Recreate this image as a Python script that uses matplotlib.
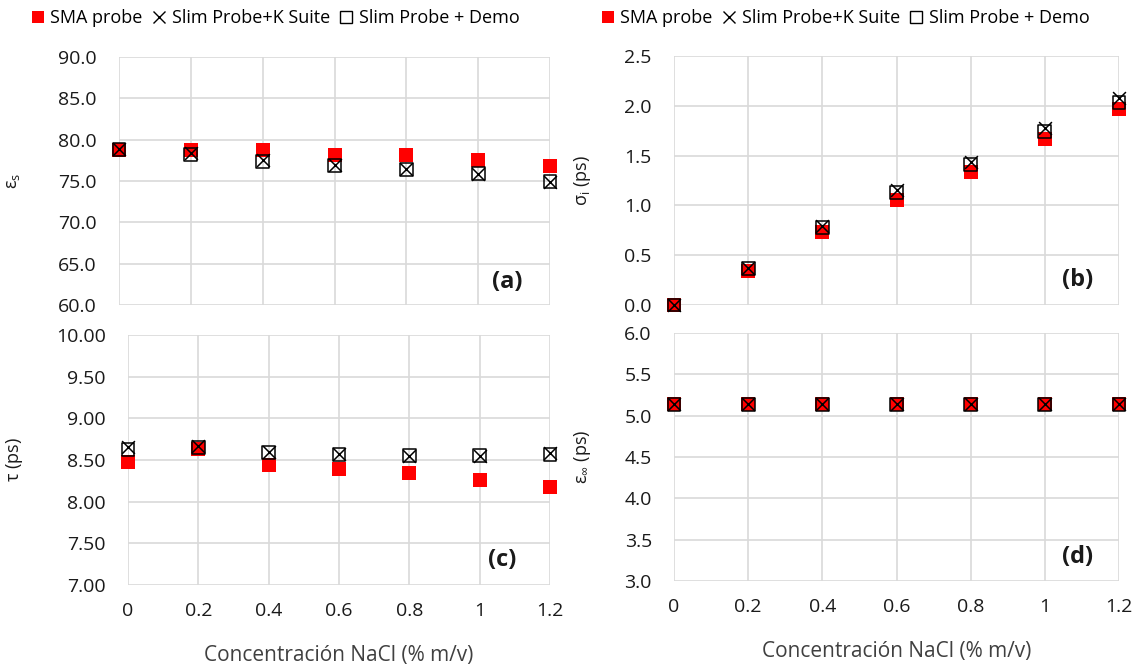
import matplotlib
matplotlib.use('Agg')
import matplotlib.pyplot as plt
from matplotlib.lines import Line2D

plt.rcParams['font.family'] = ['Open Sans', 'DejaVu Sans']

conc = [0, 0.2, 0.4, 0.6, 0.8, 1.0, 1.2]
xtick_labels = ['0', '0.2', '0.4', '0.6', '0.8', '1', '1.2']

# (a) static permittivity
eps_s_sma = [78.8, 78.8, 78.7, 78.1, 78.2, 77.5, 76.8]
eps_s_k = [78.9, 78.4, 77.5, 76.9, 76.5, 75.9, 74.9]
eps_s_demo = [78.8, 78.2, 77.4, 76.9, 76.4, 75.9, 74.9]

# (b) sigma_i
sig_sma = [0.0, 0.34, 0.73, 1.05, 1.34, 1.67, 1.97]
sig_k = [0.0, 0.37, 0.79, 1.15, 1.44, 1.78, 2.08]
sig_demo = [0.0, 0.37, 0.78, 1.13, 1.41, 1.74, 2.03]

# (c) relaxation time
tau_sma = [8.48, 8.63, 8.44, 8.39, 8.34, 8.26, 8.17]
tau_k = [8.66, 8.67, 8.60, 8.57, 8.55, 8.55, 8.58]
tau_demo = [8.63, 8.65, 8.59, 8.57, 8.55, 8.55, 8.57]

# (d) eps infinity
einf_sma = [5.14] * 7
einf_k = [5.14] * 7
einf_demo = [5.14] * 7

fig = plt.figure(figsize=(11.38, 6.70), dpi=100)

panels = [
    # rect, sma, k, demo, ylim, yticks, fmt, ylabel, label, label pos, ylabel x
    ([0.1046, 0.5448, 0.3787, 0.3701], eps_s_sma, eps_s_k, eps_s_demo,
     (60, 90), [60, 65, 70, 75, 80, 85, 90], '{:.1f}', r'$\mathregular{\varepsilon_s}$', '(a)', (0.90, 0.093), -0.225),
    ([0.5923, 0.5448, 0.3910, 0.3716], sig_sma, sig_k, sig_demo,
     (0, 2.5), [0, 0.5, 1.0, 1.5, 2.0, 2.5], '{:.1f}', r'$\mathregular{\sigma_i}$ (ps)', '(b)', (0.908, 0.10), -0.182),
    ([0.1125, 0.1269, 0.3708, 0.3731], tau_sma, tau_k, tau_demo,
     (7, 10), [7, 7.5, 8, 8.5, 9, 9.5, 10], '{:.2f}', r'$\mathregular{\tau}$ (ps)', '(c)', (0.886, 0.10), -0.245),
    ([0.5923, 0.1328, 0.3910, 0.3701], einf_sma, einf_k, einf_demo,
     (3, 6), [3, 3.5, 4, 4.5, 5, 5.5, 6], '{:.1f}', r'$\mathregular{\varepsilon_\infty}$ (ps)', '(d)', (0.906, 0.097), -0.182),
]

for i, (rect, sma, k, demo, ylim, yticks, fmt, ylabel, lab, lpos, ylx) in enumerate(panels):
    ax = fig.add_axes(rect)
    ax.scatter(conc, sma, marker='s', s=90, color='#ff0000', linewidths=0, zorder=3, clip_on=False)
    ax.scatter(conc, k, marker='x', s=85, color='black', linewidths=1.1, zorder=4, clip_on=False)
    ax.scatter(conc, demo, marker='s', s=85, facecolors='none', edgecolors='black', linewidths=1.1, zorder=5, clip_on=False)
    ax.set_xlim(0, 1.2)
    ax.set_ylim(*ylim)
    ax.set_xticks(conc)
    ax.set_yticks(yticks)
    ax.set_yticklabels([fmt.format(v) for v in yticks])
    if i >= 2:
        ax.set_xticklabels(xtick_labels)
        ax.set_xlabel('Concentración NaCl (% m/v)', fontsize=15, color='#404040', labelpad=18)
    else:
        ax.set_xticklabels([])
    ax.tick_params(axis='both', length=0, labelsize=14, colors='#1a1a1a')
    ax.tick_params(axis='y', pad=16)
    ax.tick_params(axis='x', pad=12)
    for s in ax.spines.values():
        s.set_visible(False)
    ax.grid(True, color='#d9d9d9', linewidth=1.2)
    ax.set_axisbelow(True)
    ax.set_ylabel(ylabel, fontsize=13, color='#1a1a1a')
    ax.yaxis.set_label_coords(ylx, 0.5)
    ax.text(lpos[0], lpos[1], lab, transform=ax.transAxes, ha='center', va='center',
            fontsize=17, fontweight='bold', color='#1a1a1a')

handles = [
    Line2D([], [], linestyle='none', marker='s', markersize=8, color='#ff0000', markeredgewidth=0),
    Line2D([], [], linestyle='none', marker='x', markersize=8, color='black', markeredgewidth=1),
    Line2D([], [], linestyle='none', marker='s', markersize=8, markerfacecolor='none', markeredgecolor='black', markeredgewidth=1),
]
names = ['SMA probe', 'Slim Probe+K Suite', 'Slim Probe + Demo']
for cx in (275 / 1138, 845 / 1138):
    fig.legend(handles, names, loc='center', bbox_to_anchor=(cx, 1 - 18 / 670), ncol=3,
               frameon=False, fontsize=13, handlelength=0.8, handletextpad=0.3, columnspacing=0.5)

fig.savefig('out.png', dpi=100)
